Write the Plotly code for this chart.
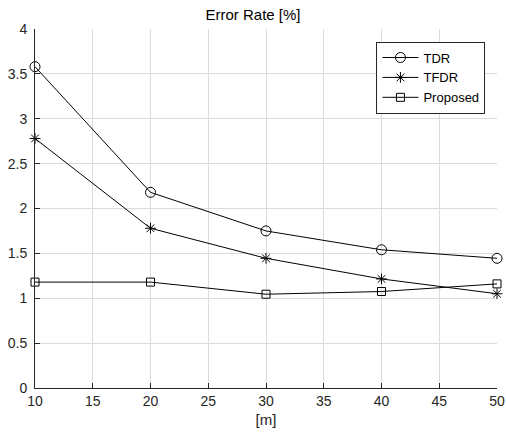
import plotly.graph_objects as go

distance_m = [10, 20, 30, 40, 50]
tdr = [3.58, 2.18, 1.75, 1.54, 1.445]
tfdr = [2.78, 1.78, 1.445, 1.215, 1.05]
proposed = [1.18, 1.18, 1.045, 1.075, 1.16]

x_ticks = [10, 15, 20, 25, 30, 35, 40, 45, 50]
y_ticks = [0, 0.5, 1, 1.5, 2, 2.5, 3, 3.5, 4]
y_tick_labels = ["0", "0.5", "1", "1.5", "2", "2.5", "3", "3.5", "4"]

FONT = "Liberation Sans, Arial, sans-serif"

fig = go.Figure()
series = [
    ("TDR", tdr, "circle-open", 10),
    ("TFDR", tfdr, "asterisk-open", 9),
    ("Proposed", proposed, "square-open", 8),
]
for name, vals, sym, size in series:
    fig.add_trace(go.Scatter(
        x=distance_m, y=vals, name=name, mode="lines+markers",
        line=dict(color="black", width=1),
        marker=dict(symbol=sym, size=size, color="black", line=dict(width=1, color="black")),
        cliponaxis=False,
    ))

fig.update_layout(
    width=506, height=432,
    margin=dict(l=35, r=9, t=29, b=44),
    paper_bgcolor="white", plot_bgcolor="white",
    font=dict(family=FONT, size=14, color="#262626"),
    title=dict(text="Error Rate [%]", x=0.5, xanchor="center", y=0.967, yanchor="middle",
               font=dict(family=FONT, size=15, color="black")),
    showlegend=True,
    legend=dict(x=0.975, xanchor="right", y=0.965, yanchor="top",
                bgcolor="white", bordercolor="#262626", borderwidth=1,
                font=dict(family=FONT, size=13, color="black"),
                itemwidth=36, tracegroupgap=0),
)
fig.update_xaxes(
    range=[10, 50], tickvals=x_ticks, ticktext=[str(v) for v in x_ticks],
    showgrid=True, gridcolor="#dcdcdc", gridwidth=1,
    showline=True, linecolor="#262626", linewidth=1,
    ticks="inside", ticklen=5, tickcolor="#262626",
    zeroline=False, mirror=False, automargin=False, ticklabeloverflow="allow",
    tickfont=dict(family=FONT, size=14, color="#262626"),
    title=dict(text="[m]", standoff=6, font=dict(family=FONT, size=15, color="#262626")),
)
fig.update_yaxes(
    range=[0, 4], tickvals=y_ticks, ticktext=y_tick_labels,
    showgrid=True, gridcolor="#dcdcdc", gridwidth=1,
    showline=True, linecolor="#262626", linewidth=1,
    ticks="inside", ticklen=5, tickcolor="#262626",
    zeroline=False, mirror=False, automargin=False, ticklabeloverflow="allow",
    ticklabelstandoff=4,
    tickfont=dict(family=FONT, size=14, color="#262626"),
)

fig.write_html("out.html", config={"displayModeBar": False},
               post_script="document.body.style.margin='0';document.body.style.overflow='hidden';")
